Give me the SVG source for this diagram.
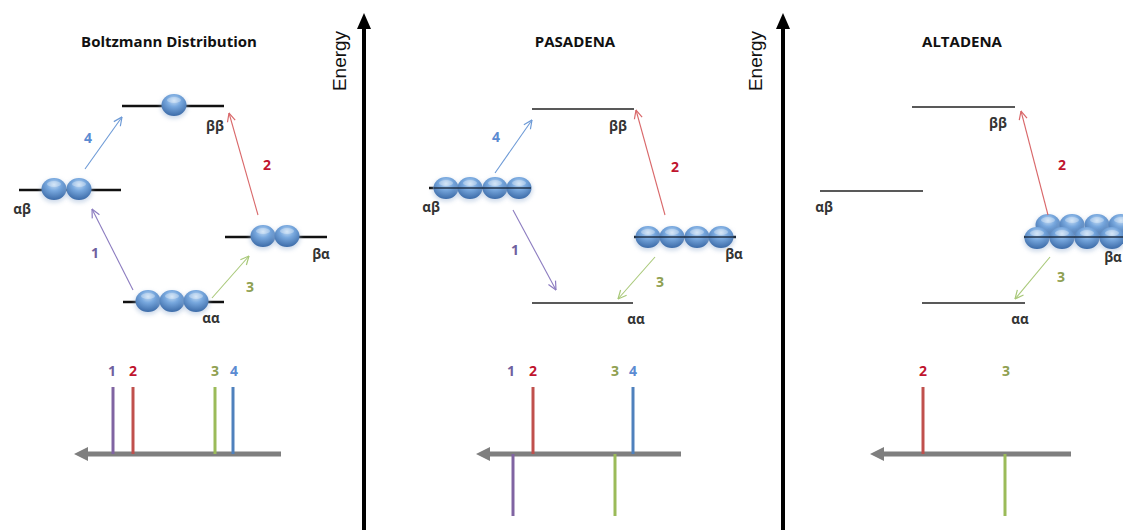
<svg xmlns="http://www.w3.org/2000/svg" xmlns:xlink="http://www.w3.org/1999/xlink" width="1123" height="530" viewBox="0 0 1123 530">
  <style>
    .title { font-family: "Open Sans", "Liberation Sans", sans-serif; font-weight: 700; font-size: 15px; fill: #111; text-anchor: middle; }
    .state { font-family: "Open Sans", "Liberation Sans", sans-serif; font-weight: 700; font-size: 13.5px; fill: #333; text-anchor: middle; }
    .num { font-family: "Open Sans", "Liberation Sans", sans-serif; font-weight: 700; font-size: 14px; text-anchor: middle; }
    .energy { font-family: "Liberation Sans", Arial, sans-serif; font-size: 19px; fill: #111; text-anchor: middle; }
    .lvl-thick { stroke: #111; stroke-width: 2.5; }
    .lvl-thin { stroke: #222; stroke-width: 1.4; }
    .axis { stroke: #000; stroke-width: 4; }
    .spec-axis { stroke: #7f7f7f; stroke-width: 5; }
    .peak { stroke-width: 3; }
    .tr { fill: none; stroke-width: 1.1; }
    .c1 { fill: #6f5f9f; } .c2 { fill: #c0142e; } .c3 { fill: #8fa050; } .c4 { fill: #5b8bd2; }
    .s1 { stroke: #8064a2; } .s2 { stroke: #c0504d; } .s3 { stroke: #9bbb59; } .s4 { stroke: #4f81bd; }
    .a1 { stroke: #8c7cc0; } .a2 { stroke: #d9686a; } .a3 { stroke: #a8c878; } .a4 { stroke: #6d9ad6; }
  </style>
  <defs>
    <radialGradient id="ballFill" cx="50%" cy="30%" r="70%">
      <stop offset="0%" stop-color="#c4dcf4"/>
      <stop offset="40%" stop-color="#78a8de"/>
      <stop offset="100%" stop-color="#3c6ba8"/>
    </radialGradient>
    <filter id="soft" x="-40%" y="-40%" width="180%" height="180%">
      <feGaussianBlur stdDeviation="2"/>
    </filter>
    <g id="ball">
      <ellipse cx="0" cy="2" rx="13.5" ry="11.5" fill="#9db5d6" opacity="0.5" filter="url(#soft)"/>
      <ellipse cx="0" cy="0" rx="12.5" ry="11" fill="url(#ballFill)"/>
      <ellipse cx="0" cy="-5" rx="7" ry="3" fill="#ffffff" opacity="0.3"/>
    </g>
    <marker id="ah1" viewBox="0 0 10 10" refX="9.5" refY="5" markerWidth="10" markerHeight="10" markerUnits="userSpaceOnUse" orient="auto">
      <path d="M1,1 L9.5,5 L1,9" fill="none" stroke="#8c7cc0" stroke-width="1.2"/>
    </marker>
    <marker id="ah2" viewBox="0 0 10 10" refX="9.5" refY="5" markerWidth="10" markerHeight="10" markerUnits="userSpaceOnUse" orient="auto">
      <path d="M1,1 L9.5,5 L1,9" fill="none" stroke="#d9686a" stroke-width="1.2"/>
    </marker>
    <marker id="ah3" viewBox="0 0 10 10" refX="9.5" refY="5" markerWidth="10" markerHeight="10" markerUnits="userSpaceOnUse" orient="auto">
      <path d="M1,1 L9.5,5 L1,9" fill="none" stroke="#a8c878" stroke-width="1.2"/>
    </marker>
    <marker id="ah4" viewBox="0 0 10 10" refX="9.5" refY="5" markerWidth="10" markerHeight="10" markerUnits="userSpaceOnUse" orient="auto">
      <path d="M1,1 L9.5,5 L1,9" fill="none" stroke="#6d9ad6" stroke-width="1.2"/>
    </marker>
  </defs>

  <rect width="1123" height="530" fill="#ffffff"/>

  <!-- Energy axes separating the three panels -->
  <g id="energy-axis-1">
    <line class="axis" x1="364" y1="530" x2="364" y2="26"/>
    <polygon points="364,13 357,29 371,29" fill="#000"/>
    <text class="energy" transform="translate(346,61) rotate(-90)">Energy</text>
  </g>
  <g id="energy-axis-2">
    <line class="axis" x1="783" y1="530" x2="783" y2="26"/>
    <polygon points="783,13 776,29 790,29" fill="#000"/>
    <text class="energy" transform="translate(762,61) rotate(-90)">Energy</text>
  </g>

  <!-- ===== Panel 1: Boltzmann distribution ===== -->
  <g id="title-boltzmann"><text class="title" x="169" y="47">Boltzmann Distribution</text></g>

  <g id="b-bb">
    <line class="lvl-thick" x1="122" y1="106" x2="224" y2="106"/>
    <use xlink:href="#ball" x="174" y="105"/>
    <text class="state" x="215" y="131">ββ</text>
  </g>
  <g id="b-ab">
    <line class="lvl-thick" x1="19" y1="190" x2="121" y2="190"/>
    <use xlink:href="#ball" x="54" y="189"/>
    <use xlink:href="#ball" x="79" y="189"/>
    <text class="state" x="22" y="214">αβ</text>
  </g>
  <g id="b-ba">
    <line class="lvl-thick" x1="225" y1="237" x2="327" y2="237"/>
    <use xlink:href="#ball" x="263" y="236"/>
    <use xlink:href="#ball" x="287" y="236"/>
    <text class="state" x="321" y="259">βα</text>
  </g>
  <g id="b-aa">
    <line class="lvl-thick" x1="123" y1="302" x2="224" y2="302"/>
    <use xlink:href="#ball" x="148" y="301"/>
    <use xlink:href="#ball" x="172" y="301"/>
    <use xlink:href="#ball" x="196" y="301"/>
    <text class="state" x="211" y="323">αα</text>
  </g>

  <g id="b-spectrum">
    <line class="spec-axis" x1="86" y1="454" x2="281" y2="454"/>
    <polygon points="74,454 88,447 88,461" fill="#7f7f7f"/>
    <line class="peak s1" x1="113" y1="387" x2="113" y2="454"/>
    <line class="peak s2" x1="133" y1="387" x2="133" y2="454"/>
    <line class="peak s3" x1="215" y1="387" x2="215" y2="454"/>
    <line class="peak s4" x1="233" y1="387" x2="233" y2="454"/>
    <text class="num c1" x="112" y="376">1</text>
    <text class="num c2" x="133" y="376">2</text>
    <text class="num c3" x="215" y="376">3</text>
    <text class="num c4" x="234" y="376">4</text>
  </g>

  <!-- ===== Panel 2: PASADENA ===== -->
  <g id="title-pasadena"><text class="title" x="575" y="47">PASADENA</text></g>

  <g id="p-bb">
    <line class="lvl-thin" x1="532" y1="109" x2="634" y2="109"/>
    <text class="state" x="618" y="131">ββ</text>
  </g>
  <g id="p-ab">
    <line class="lvl-thick" x1="429" y1="188" x2="531" y2="188"/>
    <use xlink:href="#ball" x="446" y="188"/>
    <use xlink:href="#ball" x="470" y="188"/>
    <use xlink:href="#ball" x="495" y="188"/>
    <use xlink:href="#ball" x="519" y="188"/>
    <line x1="434" y1="188" x2="531" y2="188" stroke="#1a2a40" stroke-width="2" opacity="0.7"/>
    <text class="state" x="431" y="212">αβ</text>
  </g>
  <g id="p-ba">
    <line class="lvl-thick" x1="634" y1="237" x2="736" y2="237"/>
    <use xlink:href="#ball" x="648" y="237"/>
    <use xlink:href="#ball" x="672" y="237"/>
    <use xlink:href="#ball" x="697" y="237"/>
    <use xlink:href="#ball" x="721" y="237"/>
    <line x1="634" y1="237" x2="736" y2="237" stroke="#1a2a40" stroke-width="2" opacity="0.7"/>
    <text class="state" x="734" y="259">βα</text>
  </g>
  <g id="p-aa">
    <line class="lvl-thin" x1="532" y1="303" x2="633" y2="303"/>
    <text class="state" x="636" y="324">αα</text>
  </g>

  <g id="p-spectrum">
    <line class="spec-axis" x1="488" y1="454" x2="681" y2="454"/>
    <polygon points="476,454 490,447 490,461" fill="#7f7f7f"/>
    <line class="peak s1" x1="513" y1="454" x2="513" y2="516"/>
    <line class="peak s2" x1="533" y1="387" x2="533" y2="454"/>
    <line class="peak s3" x1="615" y1="454" x2="615" y2="516"/>
    <line class="peak s4" x1="633" y1="387" x2="633" y2="454"/>
    <text class="num c1" x="511" y="376">1</text>
    <text class="num c2" x="533" y="376">2</text>
    <text class="num c3" x="615" y="376">3</text>
    <text class="num c4" x="633" y="376">4</text>
  </g>

  <!-- ===== Panel 3: ALTADENA ===== -->
  <g id="title-altadena"><text class="title" x="962" y="47">ALTADENA</text></g>

  <g id="a-bb">
    <line class="lvl-thin" x1="912" y1="107" x2="1015" y2="107"/>
    <text class="state" x="998" y="128">ββ</text>
  </g>
  <g id="a-ab">
    <line class="lvl-thin" x1="820" y1="191" x2="923" y2="191"/>
    <text class="state" x="824" y="212">αβ</text>
  </g>
  <g id="a-aa">
    <line class="lvl-thin" x1="922" y1="303" x2="1025" y2="303"/>
    <text class="state" x="1020" y="324">αα</text>
  </g>
  <g id="a-ba">
    <line class="lvl-thick" x1="1024" y1="237" x2="1123" y2="237"/>
    <use xlink:href="#ball" x="1048" y="225"/>
    <use xlink:href="#ball" x="1072" y="225"/>
    <use xlink:href="#ball" x="1097" y="225"/>
    <use xlink:href="#ball" x="1121" y="225"/>
    <use xlink:href="#ball" x="1037" y="238"/>
    <use xlink:href="#ball" x="1062" y="238"/>
    <use xlink:href="#ball" x="1087" y="238"/>
    <use xlink:href="#ball" x="1112" y="238"/>
    <line x1="1024" y1="237" x2="1123" y2="237" stroke="#1a2a40" stroke-width="2" opacity="0.7"/>
    <text class="state" x="1113" y="262" text-anchor="start">βα</text>
  </g>

  <g id="a-spectrum">
    <line class="spec-axis" x1="882" y1="454" x2="1071" y2="454"/>
    <polygon points="870,454 884,447 884,461" fill="#7f7f7f"/>
    <line class="peak s2" x1="923" y1="387" x2="923" y2="454"/>
    <line class="peak s3" x1="1005" y1="454" x2="1005" y2="516"/>
    <text class="num c2" x="923" y="376">2</text>
    <text class="num c3" x="1006" y="376">3</text>
  </g>

  <!-- Transition arrows between levels -->
  <g id="connectors">
    <!-- Boltzmann -->
    <line class="tr a4" x1="85" y1="169" x2="122" y2="117" marker-end="url(#ah4)"/>
    <line class="tr a2" x1="258" y1="215" x2="229" y2="113" marker-end="url(#ah2)"/>
    <line class="tr a1" x1="133" y1="290" x2="92" y2="209" marker-end="url(#ah1)"/>
    <line class="tr a3" x1="212" y1="298" x2="249" y2="256" marker-end="url(#ah3)"/>
    <!-- PASADENA -->
    <line class="tr a4" x1="495" y1="173" x2="532" y2="120" marker-end="url(#ah4)"/>
    <line class="tr a2" x1="665" y1="215" x2="636" y2="110" marker-end="url(#ah2)"/>
    <line class="tr a1" x1="513" y1="210" x2="556" y2="290" marker-end="url(#ah1)"/>
    <line class="tr a3" x1="655" y1="257" x2="618" y2="299" marker-end="url(#ah3)"/>
    <!-- ALTADENA -->
    <line class="tr a2" x1="1048" y1="215" x2="1021" y2="111" marker-end="url(#ah2)"/>
    <line class="tr a3" x1="1050" y1="257" x2="1015" y2="299" marker-end="url(#ah3)"/>
  </g>

  <!-- Transition numbers -->
  <g id="transition-labels">
    <text class="num c4" x="88" y="143">4</text>
    <text class="num c2" x="267" y="170">2</text>
    <text class="num c1" x="95" y="258">1</text>
    <text class="num c3" x="250" y="292">3</text>
    <text class="num c4" x="496" y="142">4</text>
    <text class="num c2" x="675" y="172">2</text>
    <text class="num c1" x="515" y="255">1</text>
    <text class="num c3" x="660" y="287">3</text>
    <text class="num c2" x="1062" y="170">2</text>
    <text class="num c3" x="1061" y="282">3</text>
  </g>
</svg>
